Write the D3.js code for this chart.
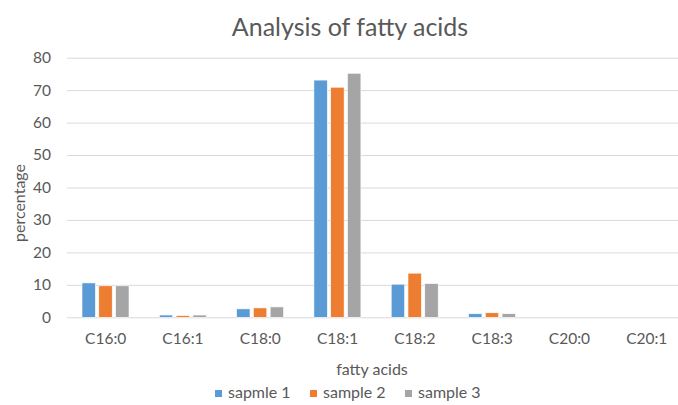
<!DOCTYPE html>
<html>
<head>
<meta charset="utf-8">
<script src="https://cdn.jsdelivr.net/npm/d3@7"></script>
<style>
  body { margin: 0; background: #fff; }
  svg { display: block; font-family: Lato, "Open Sans", sans-serif; }
  .grid line { stroke: #d9d9d9; stroke-width: 1; }
  .grid path { display: none; }
  .tick-label { fill: #595959; font-size: 15.5px; }
</style>
</head>
<body>
<svg id="chart"></svg>
<script>
// Data
var categories = ["C16:0", "C16:1", "C18:0", "C18:1", "C18:2", "C18:3", "C20:0", "C20:1"];
var seriesNames = ["sapmle 1", "sample 2", "sample 3"];
var sample1 = [10.6, 0.7, 2.6, 73.1, 10.2, 1.1, 0, 0];
var sample2 = [9.7, 0.5, 2.9, 70.9, 13.6, 1.4, 0, 0];
var sample3 = [9.7, 0.7, 3.2, 75.2, 10.4, 1.1, 0, 0];
var yTicks = [0, 10, 20, 30, 40, 50, 60, 70, 80];
var colors = ["#5b9bd5", "#ed7d31", "#a5a5a5"];

var seriesValues = [sample1, sample2, sample3];
var data = categories.map(function (c, i) {
    return { cat: c, values: seriesValues.map(function (s, j) { return { name: seriesNames[j], value: s[i] }; }) };
});

var W = 678, H = 405;
var svg = d3.select("#chart").attr("width", W).attr("height", H);

// plot area (the right side runs past the picture edge, as in the original)
var plotLeft = 67, plotBottom = 317.3, plotTop = 57.7;
var step = 77.3;

var x0 = d3.scaleBand()
    .domain(categories)
    .range([plotLeft, plotLeft + step * categories.length]);

var x1 = d3.scaleBand()
    .domain(seriesNames)
    .range([15, 62])
    .paddingInner(0.2);

var y = d3.scaleLinear()
    .domain([0, 80])
    .range([plotBottom, plotTop]);

// gridlines
svg.append("g")
    .attr("class", "grid")
    .attr("transform", "translate(" + plotLeft + ",0)")
    .call(d3.axisLeft(y).tickValues(yTicks).tickSize(-(W - plotLeft)).tickFormat(""));

// y tick labels
svg.append("g").selectAll("text")
    .data(yTicks)
    .enter().append("text")
    .attr("class", "tick-label")
    .attr("x", 51)
    .attr("y", d => y(d))
    .attr("dy", "0.35em")
    .attr("text-anchor", "end")
    .text(d => d);

// bars
var groups = svg.append("g").selectAll("g")
    .data(data)
    .enter().append("g")
    .attr("transform", d => "translate(" + x0(d.cat) + ",0)");

groups.selectAll("rect")
    .data(d => d.values)
    .enter().append("rect")
    .attr("x", d => x1(d.name))
    .attr("width", x1.bandwidth())
    .attr("y", d => y(d.value))
    .attr("height", d => plotBottom - y(d.value))
    .attr("fill", (d, i) => colors[i])
    .attr("stroke", "#fff")
    .attr("stroke-width", 0.6);

// x labels
svg.append("g").selectAll("text")
    .data(categories)
    .enter().append("text")
    .attr("class", "tick-label")
    .attr("x", d => x0(d) + x0.bandwidth() / 2)
    .attr("y", 344)
    .attr("text-anchor", "middle")
    .text(d => d);

// title
svg.append("text")
    .attr("x", 350)
    .attr("y", 36)
    .attr("text-anchor", "middle")
    .attr("fill", "#595959")
    .style("font-size", "25px")
    .text("Analysis of fatty acids");

// axis titles
svg.append("text")
    .attr("x", 372)
    .attr("y", 375)
    .attr("text-anchor", "middle")
    .attr("fill", "#595959")
    .style("font-size", "16px")
    .text("fatty acids");

svg.append("text")
    .attr("transform", "rotate(-90)")
    .attr("x", -203)
    .attr("y", 25)
    .attr("text-anchor", "middle")
    .attr("fill", "#595959")
    .style("font-size", "16px")
    .text("percentage");

// legend
var legendX = [215, 310, 405];
var legend = svg.append("g").selectAll("g")
    .data(seriesNames)
    .enter().append("g")
    .attr("transform", (d, i) => "translate(" + legendX[i] + ",398)");

legend.append("rect")
    .attr("x", 0)
    .attr("y", -8)
    .attr("width", 7)
    .attr("height", 7)
    .attr("fill", (d, i) => colors[i]);

legend.append("text")
    .attr("class", "tick-label")
    .attr("x", 13)
    .attr("y", 0)
    .style("font-size", "16px")
    .text(d => d);
</script>
</body>
</html>
